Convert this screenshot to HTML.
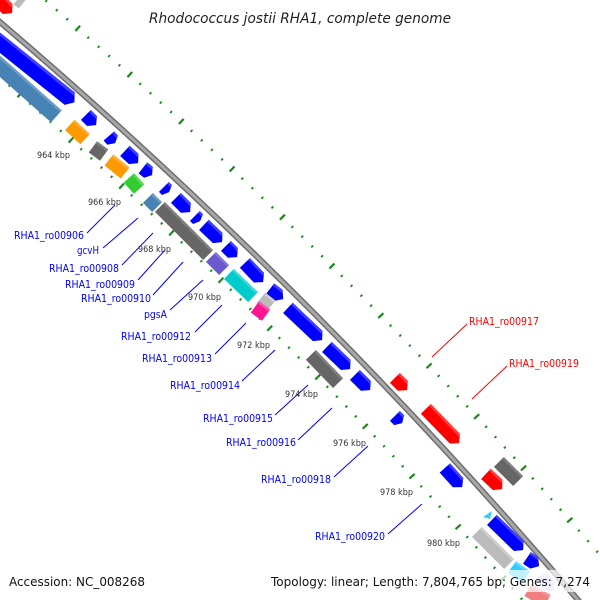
<!DOCTYPE html>
<html><head><meta charset="utf-8"><style>
html,body{margin:0;padding:0;background:#fff;width:600px;height:600px;overflow:hidden}
svg{display:block;overflow:hidden}
text{font-family:"DejaVu Sans","Liberation Sans",sans-serif}
</style></head><body>
<svg id="s" width="600" height="600" viewBox="0 0 600 600" xmlns="http://www.w3.org/2000/svg">
<g id="ticks"></g>
<g id="bb"></g>
<g id="feat"></g>
<g id="lab" font-size="11">
<line x1="87" y1="233" x2="115" y2="205" stroke="#0000ff"/>
<line x1="103" y1="248" x2="138" y2="218" stroke="#0000ff"/>
<line x1="122" y1="265" x2="153" y2="233" stroke="#0000ff"/>
<line x1="138" y1="280" x2="165" y2="250" stroke="#0000ff"/>
<line x1="153" y1="295" x2="183" y2="262" stroke="#0000ff"/>
<line x1="170" y1="310" x2="203" y2="280" stroke="#0000ff"/>
<line x1="195" y1="332" x2="222" y2="305" stroke="#0000ff"/>
<line x1="215" y1="354" x2="246" y2="323" stroke="#0000ff"/>
<line x1="242" y1="381" x2="275" y2="350" stroke="#0000ff"/>
<line x1="275" y1="415" x2="308" y2="385" stroke="#0000ff"/>
<line x1="298" y1="440" x2="332" y2="408" stroke="#0000ff"/>
<line x1="334" y1="477" x2="368" y2="446" stroke="#0000ff"/>
<line x1="388" y1="534" x2="422" y2="504" stroke="#0000ff"/>
<line x1="432" y1="357" x2="467" y2="324" stroke="#ff0000"/>
<line x1="472" y1="399" x2="507" y2="366" stroke="#ff0000"/>
<g fill="#0000ff">
<text x="14" y="239" textLength="70" lengthAdjust="spacingAndGlyphs">RHA1_ro00906</text>
<text x="77" y="254" textLength="22" lengthAdjust="spacingAndGlyphs">gcvH</text>
<text x="49" y="272" textLength="70" lengthAdjust="spacingAndGlyphs">RHA1_ro00908</text>
<text x="65" y="288" textLength="70" lengthAdjust="spacingAndGlyphs">RHA1_ro00909</text>
<text x="81" y="302" textLength="70" lengthAdjust="spacingAndGlyphs">RHA1_ro00910</text>
<text x="144" y="318" textLength="23" lengthAdjust="spacingAndGlyphs">pgsA</text>
<text x="121" y="340" textLength="70" lengthAdjust="spacingAndGlyphs">RHA1_ro00912</text>
<text x="142" y="362" textLength="70" lengthAdjust="spacingAndGlyphs">RHA1_ro00913</text>
<text x="170" y="389" textLength="70" lengthAdjust="spacingAndGlyphs">RHA1_ro00914</text>
<text x="203" y="422" textLength="70" lengthAdjust="spacingAndGlyphs">RHA1_ro00915</text>
<text x="226" y="446" textLength="70" lengthAdjust="spacingAndGlyphs">RHA1_ro00916</text>
<text x="261" y="483" textLength="70" lengthAdjust="spacingAndGlyphs">RHA1_ro00918</text>
<text x="315" y="540" textLength="70" lengthAdjust="spacingAndGlyphs">RHA1_ro00920</text>
</g>
<g fill="#ff0000">
<text x="469" y="325" textLength="70" lengthAdjust="spacingAndGlyphs">RHA1_ro00917</text>
<text x="509" y="367" textLength="70" lengthAdjust="spacingAndGlyphs">RHA1_ro00919</text>
</g>
<g fill="#333" font-size="9">
<text x="37" y="158" textLength="33" lengthAdjust="spacingAndGlyphs">964 kbp</text>
<text x="88" y="205" textLength="33" lengthAdjust="spacingAndGlyphs">966 kbp</text>
<text x="138" y="252" textLength="33" lengthAdjust="spacingAndGlyphs">968 kbp</text>
<text x="188" y="300" textLength="33" lengthAdjust="spacingAndGlyphs">970 kbp</text>
<text x="237" y="348" textLength="33" lengthAdjust="spacingAndGlyphs">972 kbp</text>
<text x="285" y="397" textLength="33" lengthAdjust="spacingAndGlyphs">974 kbp</text>
<text x="333" y="446" textLength="33" lengthAdjust="spacingAndGlyphs">976 kbp</text>
<text x="380" y="495" textLength="33" lengthAdjust="spacingAndGlyphs">978 kbp</text>
<text x="427" y="546" textLength="33" lengthAdjust="spacingAndGlyphs">980 kbp</text>
</g>
</g>
<text x="149" y="23" font-size="14" font-style="italic" fill="#222" textLength="302" lengthAdjust="spacingAndGlyphs">Rhodococcus jostii RHA1, complete genome</text>
<rect x="268" y="570" width="326" height="22" fill="#fff" opacity="0.7"/>
<text x="9" y="586" font-size="12" fill="#111" textLength="136" lengthAdjust="spacingAndGlyphs">Accession: NC_008268</text>
<text x="271" y="586" font-size="12" fill="#111" textLength="319" lengthAdjust="spacingAndGlyphs">Topology: linear; Length: 7,804,765 bp; Genes: 7,274</text>
</svg>
<script>
var NS="http://www.w3.org/2000/svg";
function el(p,t,a){var e=document.createElementNS(NS,t);for(var k in a)e.setAttribute(k,a[k]);document.getElementById(p).appendChild(e);return e;}
var CX=-3361,CY=3961,R=5178;
function arc(r){var a1=-50*Math.PI/180,a2=-40*Math.PI/180;
return "M"+(CX+r*Math.cos(a1))+" "+(CY+r*Math.sin(a1))+" A"+r+" "+r+" 0 0 1 "+(CX+r*Math.cos(a2))+" "+(CY+r*Math.sin(a2));}
el("bb","path",{d:arc(R),stroke:"#6e6e6e",'stroke-width':6,fill:"none"});
el("bb","path",{d:arc(R),stroke:"#a8a8a8",'stroke-width':3,fill:"none"});
var a0=Math.atan2(300-CY,298-CX);
var step=13.8/R;
for(var i=-60;i<=60;i++){
 var a=a0+i*step;var c=Math.cos(a),s=Math.sin(a);
 var maj=(i%5==0);var L=maj?3.5:1.3;
 [R-42,R+46].forEach(function(r){
  el("ticks","line",{x1:CX+(r-L)*c,y1:CY+(r-L)*s,x2:CX+(r+L)*c,y2:CY+(r+L)*s,stroke:"#1a8a1a",'stroke-width':maj?2.2:1.8});
 });
}
function F(x1,y1,x2,y2,col,arrow,light,hw){
 hw=hw||7;var ins=hw*0.7;
 var p1=[x1+ins,y1+ins],p2=[x2-ins,y2-ins];
 var dx=p2[0]-p1[0],dy=p2[1]-p1[1],L=Math.hypot(dx,dy);if(L<2){L=2;}
 var u=[dx/L,dy/L],n=[-u[1],u[0]];
 function P(p,t,k){return [p[0]+u[0]*t+n[0]*k,p[1]+u[1]*t+n[1]*k];}
 var hl=arrow?Math.min(6,L*0.4):0;
 var pts=[P(p1,0,-hw),P(p2,-hl,-hw)];
 if(arrow)pts.push(P(p2,0,0));
 pts.push(P(p2,-hl,hw),P(p1,0,hw));
 el("feat","polygon",{points:pts.map(function(q){return q.join(",")}).join(" "),fill:col});
 var hp=[P(p1,0,-hw),P(p2,-hl,-hw)];
 if(arrow)hp.push(P(p2,-hl*0.6,-hw*0.6));else hp.push(P(p2,0,-hw+2.5));
 hp.push(P(p1,0,-hw+2.5));
 el("feat","polygon",{points:hp.map(function(q){return q.join(",")}).join(" "),fill:light,opacity:0.7});
}
var B="#0000ff",BL="#5a5aff";
F(-12,32,80,108,B,1,BL,8);
[[81,110,101,130],[104,131,120,148],[120,146,143,168],[138,163,157,180],[159,182,174,197],[171,193,195,217],[190,211,205,226],[199,220,227,247],[221,241,242,262],[240,258,268,287],[265,284,288,304],[283,303,327,345],[322,342,355,374],[350,370,375,395],[390,411,407,428],[440,463,467,492],[487,515,528,555],[522,553,544,571]].forEach(function(b){F(b[0],b[1],b[2],b[3],B,1,BL);});
F(537,570,558,596,"#ccccff",1,"#e0e0ff");
F(-20,48,62,122,"#4682b4",0,"#7aa6cc",8);
F(65,120,90,144,"#ff9900",0,"#ffb84d");
F(88,142,109,160,"#666666",0,"#8a8a8a");
F(104,155,130,178,"#ff9900",0,"#ffb84d");
F(124,173,144,194,"#33cc33",0,"#66dd66");
F(143,193,162,212,"#4682b4",0,"#7aa6cc");
F(155,202,213,260,"#666666",0,"#8a8a8a");
F(206,252,229,275,"#6a5acd",0,"#8f82dd");
F(224,269,258,302,"#00cccc",0,"#55dddd");
F(256,293,276,311,"#bbbbbb",0,"#d5d5d5");
F(250,302,271,320,"#ff1493",0,"#ff66b3");
F(306,350,343,388,"#666666",0,"#8a8a8a");
F(472,527,514,569,"#bbbbbb",0,"#d5d5d5");
F(507,562,531,582,"#33ccff",0,"#77ddff");
F(523,585,552,606,"#f08080",0,"#f5a0a0");
el("feat","polygon",{points:"483,517 492,511 490,519",fill:"#33ccff"});
F(-14,-12,17,18,"#ff0000",1,"#ff5555");
F(13,-6,28,8,"#bbbbbb",0,"#d5d5d5");
F(390,373,412,395,"#ff0000",1,"#ff5555");
F(421,404,464,448,"#ff0000",1,"#ff5555");
F(481,469,507,494,"#ff0000",1,"#ff5555");
F(494,457,523,486,"#666666",0,"#8a8a8a");
</script>
</body></html>
